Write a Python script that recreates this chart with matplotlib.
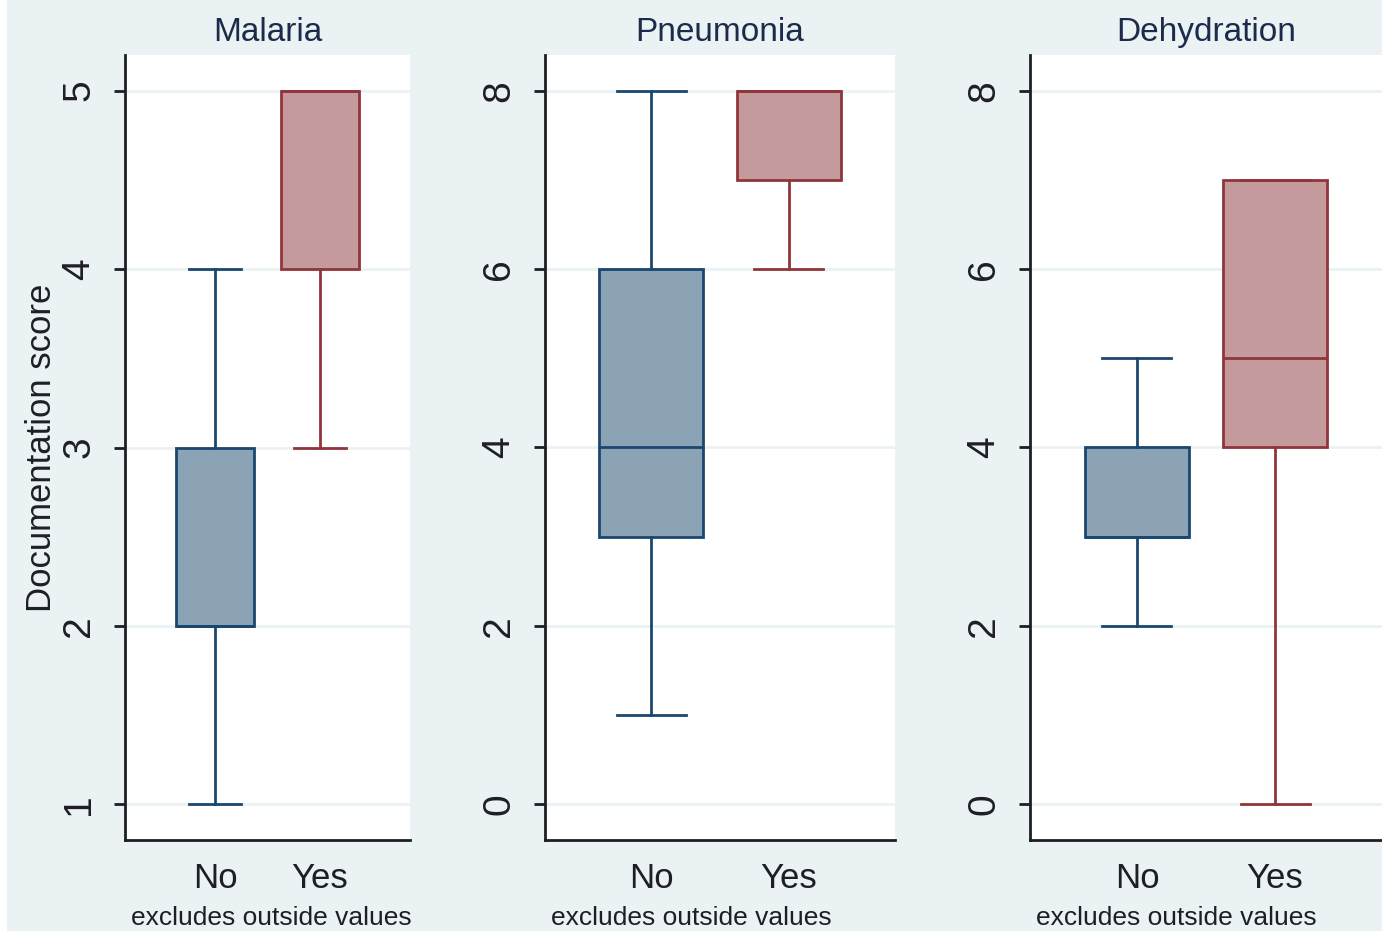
#!/usr/bin/env python
"""Box plots of documentation score by diagnosis (Stata style)."""
import matplotlib.pyplot as plt
from matplotlib.patches import Rectangle

plt.rcParams["font.family"] = ["Liberation Sans", "DejaVu Sans"]

panels = ["Malaria", "Pneumonia", "Dehydration"]
groups = ["No", "Yes"]
note = "excludes outside values"

# (whisker low, q1, median, q3, whisker high) for No / Yes
malaria_no = [1, 2, 2, 3, 4]
malaria_yes = [3, 4, 5, 5, 5]
pneumonia_no = [1, 3, 4, 6, 8]
pneumonia_yes = [6, 7, 8, 8, 8]
dehydration_no = [2, 3, 3, 4, 5]
dehydration_yes = [0, 4, 5, 7, 7]

stats_by_panel = [
    [malaria_no, malaria_yes],
    [pneumonia_no, pneumonia_yes],
    [dehydration_no, dehydration_yes],
]
yticks_by_panel = [[1, 2, 3, 4, 5], [0, 2, 4, 6, 8], [0, 2, 4, 6, 8]]
ylims = [(0.8, 5.2), (-0.4, 8.4), (-0.4, 8.4)]
xlims = [(0.14, 2.86), (0.23, 2.77), (0.225, 2.775)]

BG = "#eaf2f3"
FILLS = ["#8ca3b5", "#c49a9c"]
EDGES = ["#1a476f", "#90353b"]
TXT = "#1e1e24"

W, H = 1382, 931
fig = plt.figure(figsize=(W / 100, H / 100), dpi=100, facecolor=BG)
# thin white strip on the left edge, as in the source image
fig.patches.append(Rectangle((0, 0), 7 / W, 1, transform=fig.transFigure,
                             facecolor="white", edgecolor="none", zorder=-1))

# axes rectangles in pixels: left, right
ax_px = [(125, 410), (545, 895), (1030, 1382)]
top_px, bot_px = 55, 840

for k, name in enumerate(panels):
    l, r = ax_px[k]
    ax = fig.add_axes([l / W, 1 - bot_px / H, (r - l) / W, (bot_px - top_px) / H])
    ax.set_facecolor("white")
    for i, vals in enumerate(stats_by_panel[k]):
        lo, q1, med, q3, hi = vals
        st = [dict(whislo=lo, q1=q1, med=med, q3=q3, whishi=hi, fliers=[])]
        ax.bxp(st, positions=[i + 1], widths=0.75, capwidths=0.5,
               patch_artist=True, showfliers=False,
               boxprops=dict(facecolor=FILLS[i], edgecolor=EDGES[i], linewidth=2),
               medianprops=dict(color=EDGES[i], linewidth=2),
               whiskerprops=dict(color=EDGES[i], linewidth=2),
               capprops=dict(color=EDGES[i], linewidth=2))
    ax.set_xlim(*xlims[k])
    ax.set_ylim(*ylims[k])
    ax.set_yticks(yticks_by_panel[k])
    ax.set_yticklabels([str(t) for t in yticks_by_panel[k]], rotation=90,
                       va="center", fontsize=28, color=TXT)
    ax.set_xticks([1, 2])
    ax.set_xticklabels(groups, fontsize=25, color=TXT)
    ax.tick_params(axis="x", length=0, pad=16)
    ax.tick_params(axis="y", length=8, width=2, color=TXT, pad=12)
    ax.grid(axis="y", color=BG, linewidth=2)
    ax.set_axisbelow(True)
    for side in ["top", "right"]:
        ax.spines[side].set_visible(False)
    for side in ["left", "bottom"]:
        ax.spines[side].set_linewidth(2)
        ax.spines[side].set_color(TXT)
    ax.set_title(name, fontsize=24, color="#1c2b4a", pad=10)
    ax.annotate(note, xy=(0, 0), xycoords="axes fraction", xytext=(6, -78),
                textcoords="offset pixels", ha="left", va="center",
                fontsize=19, color=TXT)
    if k == 0:
        ax.set_ylabel("Documentation score", fontsize=25, color=TXT, labelpad=2)

fig.savefig("out.png", dpi=100, facecolor=BG)
